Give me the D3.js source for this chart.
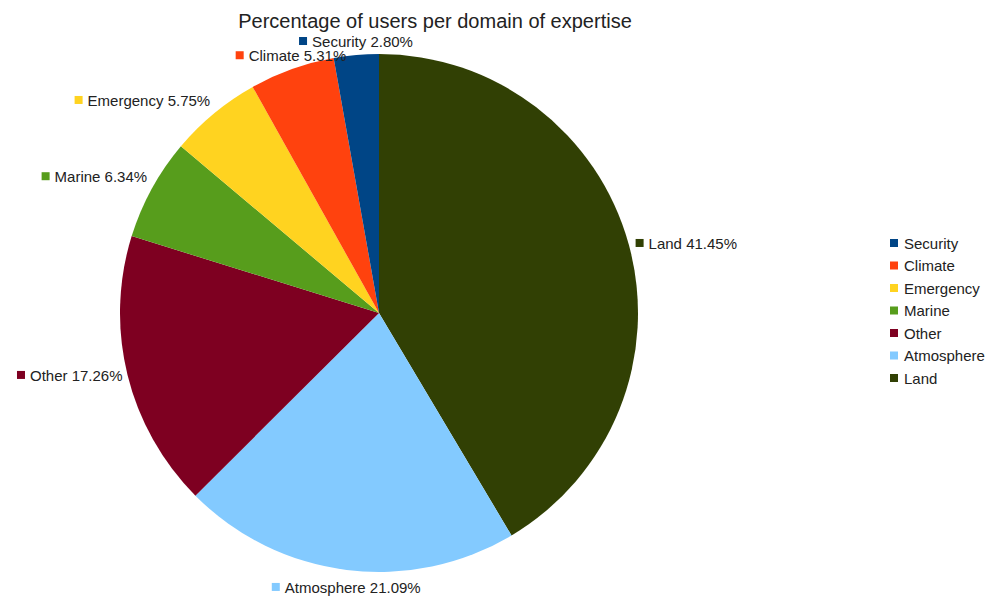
<!DOCTYPE html>
<html>
<head>
<meta charset="utf-8">
<script src="https://cdn.jsdelivr.net/npm/d3@7"></script>
<style>
  html, body { margin: 0; padding: 0; background: #fff; }
  svg { display: block; font-family: "Liberation Sans", Arial, sans-serif; }
</style>
</head>
<body>
<svg id="chart" width="989" height="598"></svg>
<script>
// Domains of expertise, in drawing order (clockwise from 12 o'clock)
const categories = ["Land", "Atmosphere", "Other", "Marine", "Emergency", "Climate", "Security"];
const percentages = [41.45, 21.09, 17.26, 6.34, 5.75, 5.31, 2.80];
const colors = ["#314004", "#83caff", "#7e0021", "#579d1c", "#ffd320", "#ff420e", "#004586"];
// Legend lists the domains from smallest to largest
const legendOrder = ["Security", "Climate", "Emergency", "Marine", "Other", "Atmosphere", "Land"];
const title = "Percentage of users per domain of expertise";

const svg = d3.select("#chart");
const cx = 379, cy = 313, radius = 259;
const textColor = "#222";

const color = d3.scaleOrdinal().domain(categories).range(colors);

const data = categories.map((c, i) => ({ name: c, value: percentages[i] }));
const pie = d3.pie().value(d => d.value).sort(null);
const arcs = pie(data);
const arc = d3.arc().innerRadius(0).outerRadius(radius);

// Title
svg.append("text")
  .attr("x", 435).attr("y", 28)
  .attr("text-anchor", "middle")
  .attr("font-size", 20)
  .attr("fill", textColor)
  .text(title);

// Slices
const g = svg.append("g").attr("transform", `translate(${cx},${cy})`);
g.selectAll("path")
  .data(arcs)
  .join("path")
  .attr("d", arc)
  .attr("fill", d => color(d.data.name));

// Slice labels: a colour key square followed by "Name xx.xx%"
const labelR = radius + 3;
const sq = 8, gap = 5, fontSize = 15;
const fmt = d3.format(".2f");

arcs.forEach(a => {
  const mid = (a.startAngle + a.endAngle) / 2;
  const dx = Math.sin(mid), dy = -Math.cos(mid);
  const px = cx + labelR * dx, py = cy + labelR * dy;

  const lg = svg.append("g");
  const txt = lg.append("text")
    .attr("font-size", fontSize)
    .attr("fill", textColor)
    .text(`${a.data.name} ${fmt(a.data.value)}%`);
  const tw = txt.node().getComputedTextLength();
  const boxW = sq + gap + tw;

  let left;
  if (Math.abs(dx) < 0.4) left = px - boxW / 2;
  else if (dx > 0) left = px + 4;
  else left = px - 2 - boxW;

  let baseline;
  if (Math.abs(dy) < 0.4) baseline = py + 5.5;
  else if (dy < 0) baseline = py - 5;
  else baseline = py + 20;

  lg.append("rect")
    .attr("x", left).attr("y", baseline - 10)
    .attr("width", sq).attr("height", sq)
    .attr("fill", color(a.data.name));
  txt.attr("x", left + sq + gap).attr("y", baseline);
});

// Legend
const legend = svg.append("g").attr("transform", "translate(890,243)");
const rowH = 22.5;
legendOrder.forEach((name, i) => {
  const row = legend.append("g").attr("transform", `translate(0,${i * rowH})`);
  row.append("rect")
    .attr("x", 0).attr("y", -4)
    .attr("width", sq).attr("height", sq)
    .attr("fill", color(name));
  row.append("text")
    .attr("x", 14).attr("y", 5.5)
    .attr("font-size", fontSize)
    .attr("fill", textColor)
    .text(name);
});
</script>
</body>
</html>
